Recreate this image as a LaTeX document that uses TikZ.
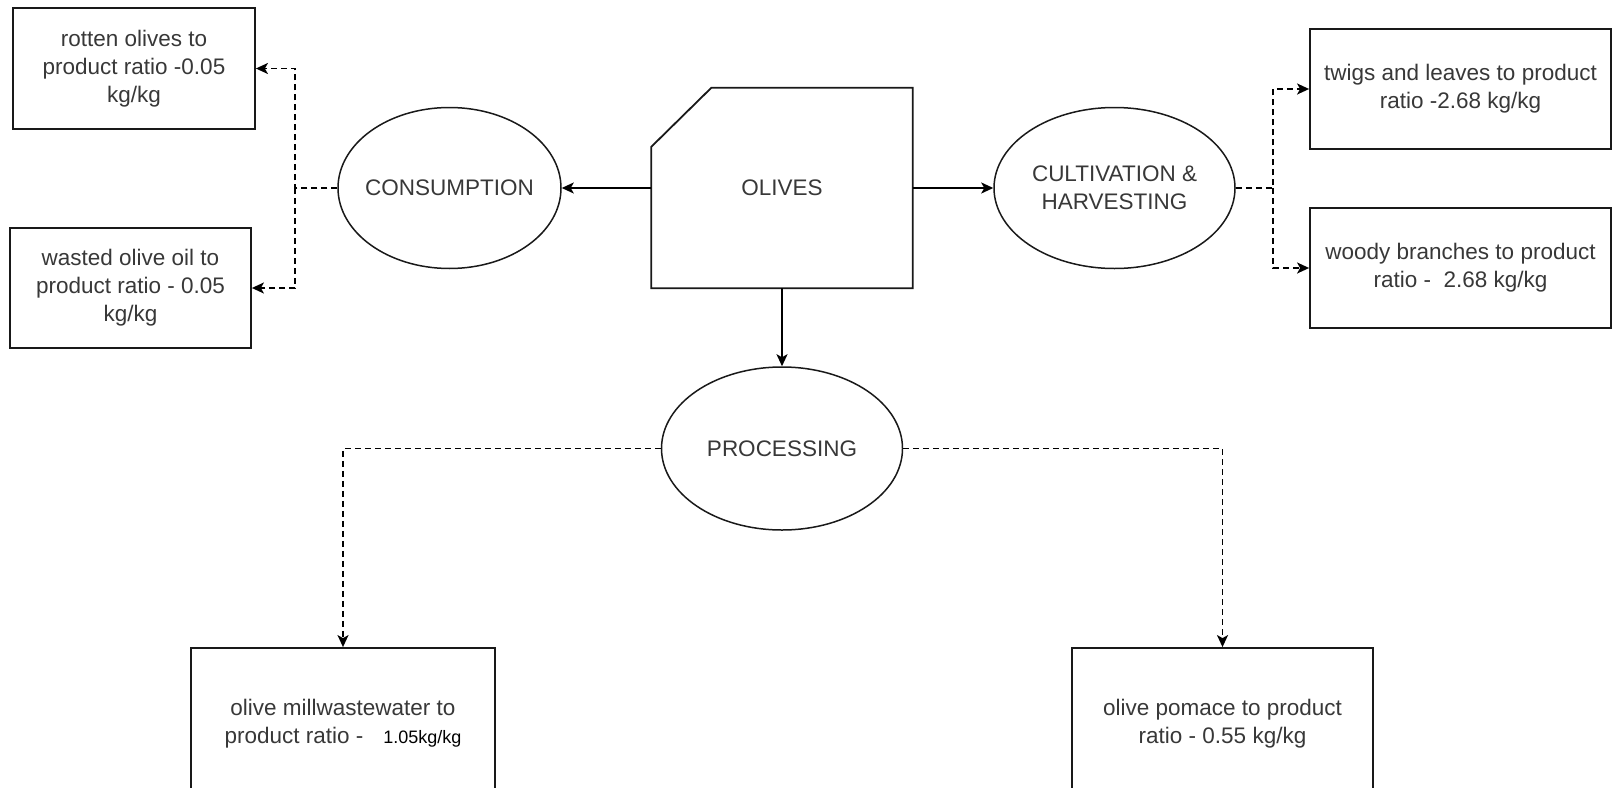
\documentclass[tikz,border=0pt]{standalone}
\usepackage{fontspec}
\setmainfont{Liberation Sans}
\usetikzlibrary{shapes.geometric,arrows.meta,calc}
\begin{document}
\begin{tikzpicture}[x=1pt,y=-1pt,
  every node/.style={font=\fontsize{22.5}{28}\selectfont, text=black!78, align=center, inner sep=0pt},
  box/.style={draw=black!90, line width=1.8pt, rectangle},
  oval/.style={draw=black!90, line width=1.5pt, ellipse, inner xsep=-30pt, inner ysep=-10pt},
  ln/.style={line width=1.7pt, draw=black, -{Stealth[length=12pt,width=11pt,inset=3pt]}},
  dsh/.style={ln, dash pattern=on 6pt off 4pt}]
\useasboundingbox (0,0) rectangle (1614,787);
\fill[white] (0,0) rectangle (1614,787);
\clip (0,0) rectangle (1614,787);

% left boxes
\node[box, minimum width=242pt, minimum height=121pt] (rotten) at (134,68.5) {rotten olives to\\product ratio -0.05\\kg/kg};
\node[box, minimum width=241pt, minimum height=120pt] (wasted) at (130.5,288) {wasted olive oil to\\product ratio - 0.05\\kg/kg};

% consumption
\node[oval, minimum width=223pt, minimum height=161pt] (cons) at (449.5,188) {CONSUMPTION};

% olives (invisible node + polygon outline)
\node[minimum width=261pt, minimum height=200pt] (olives) at (782,188) {OLIVES};
\draw[line width=1.8pt, draw=black!90] (olives.south west) -- ($(olives.north west)+(0,59)$) -- ($(olives.north west)+(60,0)$) -- (olives.north east) -- (olives.south east) -- cycle;

% cultivation
\node[oval, minimum width=241pt, minimum height=161pt] (cult) at (1114.5,188) {CULTIVATION \&\\HARVESTING};

% right boxes
\node[box, minimum width=301pt, minimum height=120pt] (twigs) at (1460.5,89) {twigs and leaves to product\\ratio -2.68 kg/kg};
\node[box, minimum width=301pt, minimum height=120pt] (woody) at (1460.5,268) {woody branches to product\\ratio -\ \ 2.68 kg/kg};

% processing
\node[oval, minimum width=241pt, minimum height=163pt] (proc) at (782,448.5) {PROCESSING};

% bottom boxes
\node[box, minimum width=304pt, minimum height=152pt] (mill) at (343,724) {olive millwastewater to\\product ratio -\hspace{20pt}{\fontsize{18}{20}\selectfont\color{black}1.05kg/kg}};
\node[box, minimum width=301pt, minimum height=152pt] (pomace) at (1222.5,724) {olive pomace to product\\ratio - 0.55 kg/kg};

% junctions
\coordinate (jc) at (295,188);
\coordinate (jh) at (1273,188);

% solid arrows
\draw[ln] (olives.west) -- (cons.east);
\draw[ln] (olives.east) -- (cult.west);
\draw[ln] (olives.south) -- (proc.north);

% dashed connectors
\draw[dsh] (cons.west) -- (jc) |- (rotten.east);
\draw[dsh] (jc) |- (wasted.east);
\draw[dsh] (cult.east) -- (jh) |- (twigs.west);
\draw[dsh] (jh) |- (woody.west);
\draw[dsh] (proc.west) -| (mill.north);
\draw[dsh] (proc.east) -| (pomace.north);
\end{tikzpicture}
\end{document}
